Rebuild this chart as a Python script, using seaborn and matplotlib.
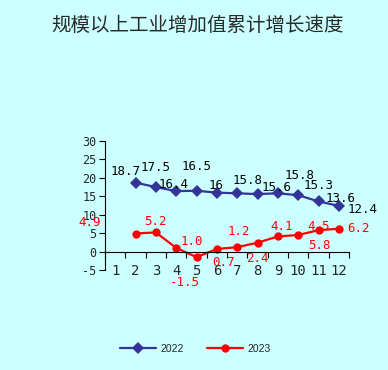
import matplotlib
matplotlib.use('Agg')
import matplotlib.pyplot as plt
import seaborn as sns
import pandas as pd

months = list(range(2, 13))
vals_2022 = [18.7, 17.5, 16.4, 16.5, 16.0, 15.8, 15.6, 15.8, 15.3, 13.6, 12.4]
vals_2023 = [4.9, 5.2, 1.0, -1.5, 0.7, 1.2, 2.4, 4.1, 4.5, 5.8, 6.2]
labels_2022 = ['18.7', '17.5', '16.4', '16.5', '16', '15.8', '15.6', '15.8', '15.3', '13.6', '12.4']
labels_2023 = ['4.9', '5.2', '1.0', '-1.5', '0.7', '1.2', '2.4', '4.1', '4.5', '5.8', '6.2']
xticklabels = [str(i) for i in range(1, 13)]

# label offsets (pixels) copied from how the labels sit in the original
off_2022 = [(-10, 11), (0, 20), (-3, 7), (0, 24), (-1, 7), (10, 13),
            (19, 7), (22, 18), (20, 10), (22, 3), (24, -4)]
off_2023 = [(-46, 11), (0, 11), (16, 6), (-12, -25), (7, -14), (2, 16),
            (0, -16), (4, 10), (20, 8), (1, -15), (20, 0)]

bg = '#CCFFFF'
blue = '#333399'
red = '#FF0000'

df = pd.DataFrame({
    'month': months * 2,
    'value': vals_2022 + vals_2023,
    'year': ['2022'] * len(months) + ['2023'] * len(months),
})

sns.set_style('white')
plt.rcParams['font.family'] = ['DejaVu Sans Mono', 'DejaVu Sans']

fig = plt.figure(figsize=(3.88, 3.70), dpi=100, facecolor=bg)
ax = fig.add_axes([105 / 388, 1 - 270 / 370, 244 / 388, 129 / 370])
ax.set_facecolor(bg)

sns.lineplot(data=df, x='month', y='value', hue='year', style='year',
             palette={'2022': blue, '2023': red},
             markers={'2022': 'D', '2023': 'o'}, dashes=False,
             markersize=6, linewidth=1.6, markeredgewidth=0, ax=ax)

for x, y, t, (dx, dy) in zip(months, vals_2022, labels_2022, off_2022):
    ax.annotate(t, (x, y), xytext=(dx, dy), textcoords='offset pixels',
                ha='center', va='center', fontsize=9, color='black')
for x, y, t, (dx, dy) in zip(months, vals_2023, labels_2023, off_2023):
    ax.annotate(t, (x, y), xytext=(dx, dy), textcoords='offset pixels',
                ha='center', va='center', fontsize=9, color=red)

ax.set_xlim(0.5, 12.5)
ax.set_ylim(-5, 30)
ax.set_yticks(range(-5, 31, 5))
ax.set_yticklabels([str(v) for v in range(-5, 31, 5)], fontsize=8.5)
ax.tick_params(axis='y', left=True, direction='out', length=4, width=0.8,
               color='black', pad=2)

ax.set_xticks([i + 0.5 for i in range(0, 13)])
ax.set_xticklabels([])
ax.set_xticks(range(1, 13), minor=True)
ax.set_xticklabels(xticklabels, minor=True, fontsize=8.5)
ax.tick_params(axis='x', which='major', bottom=True, direction='out', length=4,
               width=0.8, color='black')
ax.tick_params(axis='x', which='minor', bottom=True, length=0, pad=9)

ax.spines['bottom'].set_position(('data', 0))
for s in ['top', 'right']:
    ax.spines[s].set_visible(False)
for s in ['left', 'bottom']:
    ax.spines[s].set_color('black')
    ax.spines[s].set_linewidth(0.8)
ax.set_xlabel('')
ax.set_ylabel('')

handles, labs = ax.get_legend_handles_labels()
ax.legend(handles, labs, loc='center', bbox_to_anchor=(195 / 388, 1 - 349 / 370),
          bbox_transform=fig.transFigure, ncol=2, frameon=False,
          prop={'family': 'Liberation Sans', 'size': 7.5},
          handlelength=3.5, columnspacing=2.2, handletextpad=0.4)

fig.text(198 / 388, 1 - 25 / 370, '规模以上工业增加值累计增长速度',
         ha='center', va='center', fontsize=14, color='#2a2a2a',
         fontweight='light', family=['Noto Sans CJK SC', 'DejaVu Sans'])

fig.savefig('out.png', dpi=100, facecolor=bg)
